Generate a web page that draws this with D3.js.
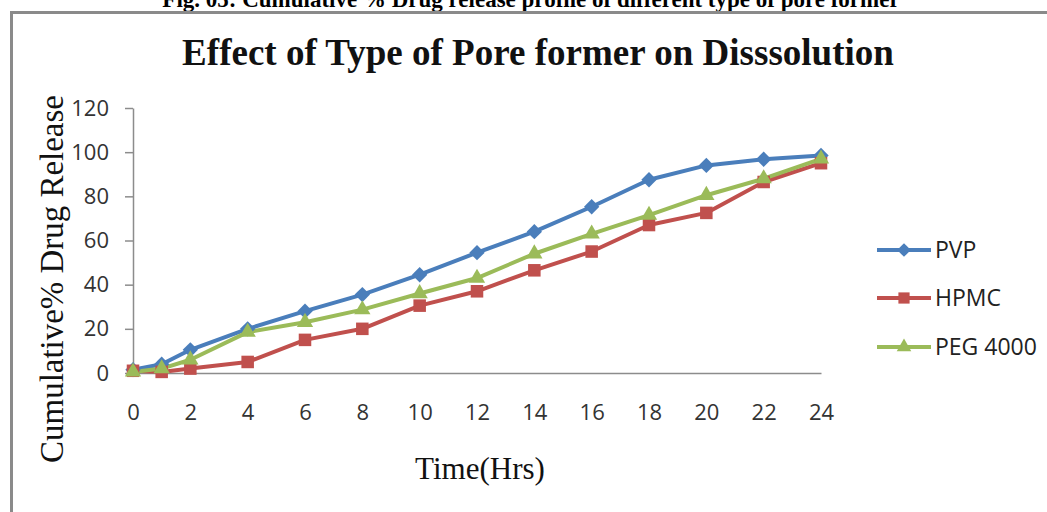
<!DOCTYPE html>
<html>
<head>
<meta charset="utf-8">
<script src="https://cdn.jsdelivr.net/npm/d3@7"></script>
<style>
  html, body { margin: 0; padding: 0; background: #fff; }
  svg { display: block; }
</style>
</head>
<body>
<svg id="chart" width="1047" height="512"></svg>
<script>
const times = [0, 1, 2, 4, 6, 8, 10, 12, 14, 16, 18, 20, 22, 24];
const pvp   = [1.5, 4, 10.5, 20, 28, 35.5, 44.5, 54.5, 64, 75.3, 87.5, 94, 96.8, 98.5];
const hpmc  = [1, 0.5, 2, 5, 15, 20, 30.5, 37, 46.5, 55, 67, 72.5, 86.5, 95];
const peg   = [0.5, 2, 6, 18.5, 23, 28.7, 36, 43, 54, 63, 71.5, 80.5, 88, 97];
const seriesNames = ["PVP", "HPMC", "PEG 4000"];
const xTicks = [0, 2, 4, 6, 8, 10, 12, 14, 16, 18, 20, 22, 24];
const yTicks = [0, 20, 40, 60, 80, 100, 120];
const caption = "Fig. 05: Cumulative % Drug release profile of different type of pore former";
const title = "Effect of Type of Pore former on Disssolution";
const xTitle = "Time(Hrs)";
const yTitle = "Cumulative% Drug Release";

const series = [
  { name: seriesNames[0], values: pvp,  color: "#4A7EBB", symbol: d3.symbolDiamond2, size: 150 },
  { name: seriesNames[1], values: hpmc, color: "#C0504D", symbol: d3.symbolSquare2,  size: 200 },
  { name: seriesNames[2], values: peg,  color: "#9BBB59", symbol: d3.symbolTriangle2, size: 190 }
];

const svg = d3.select("#chart");

// caption (cut off at top, as in the source page)
svg.append("text")
  .attr("x", 531).attr("y", 7)
  .attr("text-anchor", "middle")
  .attr("font-family", "Liberation Serif, Times New Roman, serif")
  .attr("font-weight", "bold")
  .attr("font-size", 23)
  .attr("fill", "#000")
  .text(caption);

// chart frame
svg.append("rect")
  .attr("x", 11.5).attr("y", 12.5)
  .attr("width", 1060).attr("height", 520)
  .attr("fill", "#fff")
  .attr("stroke", "#8a8a8a")
  .attr("stroke-width", 3);

// title
const t = svg.append("text")
  .attr("x", 538).attr("y", 65)
  .attr("text-anchor", "middle")
  .attr("font-family", "Liberation Serif, Times New Roman, serif")
  .attr("font-weight", "bold")
  .attr("font-size", 32)
  .attr("fill", "#111")
  .text(title);
{
  const w = t.node().getComputedTextLength();
  t.attr("font-size", 32 * 712 / w);
}

const x = d3.scaleLinear().domain([0, 24]).range([133, 821]);
const y = d3.scaleLinear().domain([0, 120]).range([373, 108]);

// y axis
const yAxis = svg.append("g")
  .attr("transform", "translate(133,0)")
  .call(d3.axisLeft(y).tickValues(yTicks).tickSize(8).tickPadding(16).tickSizeOuter(0));
yAxis.select(".domain").attr("stroke", "#8c8c8c").attr("stroke-width", 1.5);
yAxis.selectAll(".tick line").attr("stroke", "#8c8c8c").attr("stroke-width", 1.5);
yAxis.selectAll(".tick text")
  .attr("font-family", "Open Sans, Noto Sans, sans-serif")
  .attr("font-size", 22)
  .attr("fill", "#333");

// x axis
const xAxis = svg.append("g")
  .attr("transform", "translate(0,373)")
  .call(d3.axisBottom(x).tickValues(xTicks).tickSize(0).tickPadding(31).tickSizeOuter(0));
xAxis.select(".domain").attr("stroke", "#8c8c8c").attr("stroke-width", 1.5);
xAxis.selectAll(".tick text")
  .attr("font-family", "Open Sans, Noto Sans, sans-serif")
  .attr("font-size", 22)
  .attr("fill", "#333");

// axis titles
const xt = svg.append("text")
  .attr("x", 480).attr("y", 479)
  .attr("text-anchor", "middle")
  .attr("font-family", "Liberation Serif, Times New Roman, serif")
  .attr("font-size", 28)
  .attr("fill", "#111")
  .text(xTitle);
{
  const w = xt.node().getComputedTextLength();
  xt.attr("font-size", 28 * 130 / w);
}
const yt = svg.append("text")
  .attr("transform", "translate(63,279) rotate(-90)")
  .attr("text-anchor", "middle")
  .attr("font-family", "Liberation Serif, Times New Roman, serif")
  .attr("font-size", 28)
  .attr("fill", "#111")
  .text(yTitle);
{
  const w = yt.node().getComputedTextLength();
  yt.attr("font-size", 28 * 368 / w);
}

// lines and markers
const line = d3.line().x((d, i) => x(times[i])).y(d => y(d));
series.forEach(s => {
  svg.append("path")
    .datum(s.values)
    .attr("d", line)
    .attr("fill", "none")
    .attr("stroke", s.color)
    .attr("stroke-width", 4)
    .attr("stroke-linejoin", "round");
});
series.forEach(s => {
  const sym = d3.symbol().type(s.symbol).size(s.size);
  svg.append("g").selectAll("path")
    .data(s.values)
    .join("path")
    .attr("d", sym)
    .attr("transform", (d, i) => `translate(${x(times[i])},${y(d)})`)
    .attr("fill", s.color);
});

// legend
const legendY = [250, 298, 347];
series.forEach((s, i) => {
  const g = svg.append("g").attr("transform", `translate(0,${legendY[i]})`);
  g.append("line").attr("x1", 877).attr("x2", 931).attr("y1", 0).attr("y2", 0)
    .attr("stroke", s.color).attr("stroke-width", 4);
  g.append("path").attr("d", d3.symbol().type(s.symbol).size(s.size * 0.8)())
    .attr("transform", "translate(904,0)").attr("fill", s.color);
  g.append("text").attr("x", 935).attr("y", 0).attr("dy", "0.36em")
    .attr("font-family", "Open Sans, Noto Sans, sans-serif")
    .attr("font-size", 23)
    .attr("fill", "#222")
    .text(s.name);
});
</script>
</body>
</html>
